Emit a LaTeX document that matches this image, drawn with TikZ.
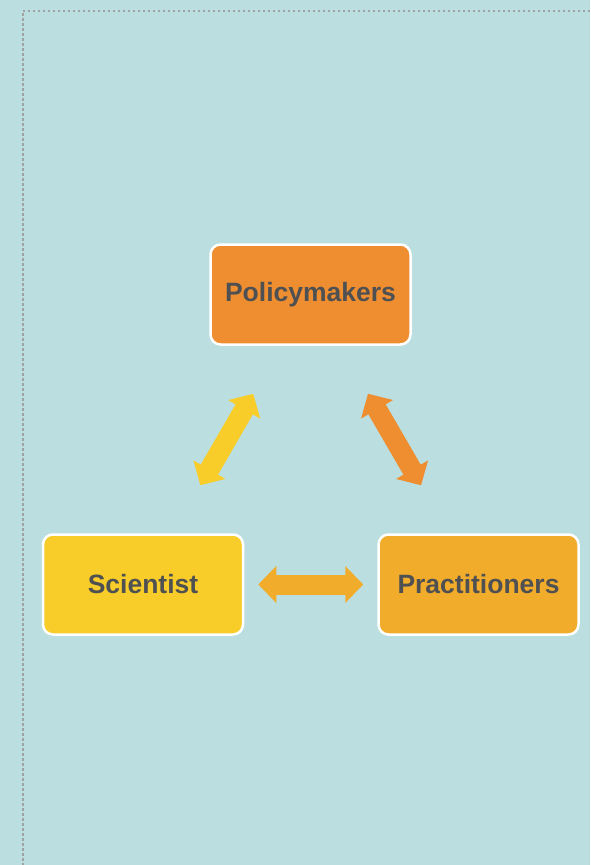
\documentclass[tikz,border=0pt]{standalone}
\usepackage{fontspec}
\setmainfont{Liberation Sans}
\usetikzlibrary{arrows.meta}
\definecolor{bgblue}{HTML}{BBDFE1}
\definecolor{dotgray}{HTML}{9EA2A3}
\definecolor{polorange}{HTML}{EE8E31}
\definecolor{sciyellow}{HTML}{F8CD29}
\definecolor{pracorange}{HTML}{F2AC2B}
\definecolor{txtgray}{HTML}{4F5052}
\tikzset{
  actor/.style={draw=white, line width=2.5pt, rounded corners=10pt,
    minimum width=200pt, minimum height=100pt, inner sep=0pt,
    font=\fontsize{26.5}{31}\selectfont\bfseries, text=txtgray},
  fatarrow/.style={line width=20pt,
    {Triangle[width=36pt,length=18pt]}-{Triangle[width=36pt,length=18pt]}}
}
\begin{document}
\begin{tikzpicture}[x=1pt,y=-1pt]
\useasboundingbox (0,0) rectangle (590,865);
\clip (0,0) rectangle (590,865);
\fill[bgblue] (0,0) rectangle (590,865);
\draw[dotgray, line width=2.2pt, dash pattern=on 2.2pt off 2.8pt] (610,10.8) -- (22.6,10.8) -- (22.6,880);
\node[actor, fill=polorange] (pol) at (310.5,294.5) {Policymakers};
\node[actor, fill=sciyellow] (sci) at (143,584.5) {Scientist};
\node[actor, fill=pracorange] (prac) at (478.5,584.5) {Practitioners};
\draw[fatarrow, sciyellow, shorten <=55.5pt, shorten >=55.5pt] (sci) -- (pol);
\draw[fatarrow, polorange, shorten <=55.5pt, shorten >=55.5pt] (pol) -- (prac);
\draw[fatarrow, pracorange, shorten <=14pt, shorten >=14pt] (sci) -- (prac);
\end{tikzpicture}
\end{document}
